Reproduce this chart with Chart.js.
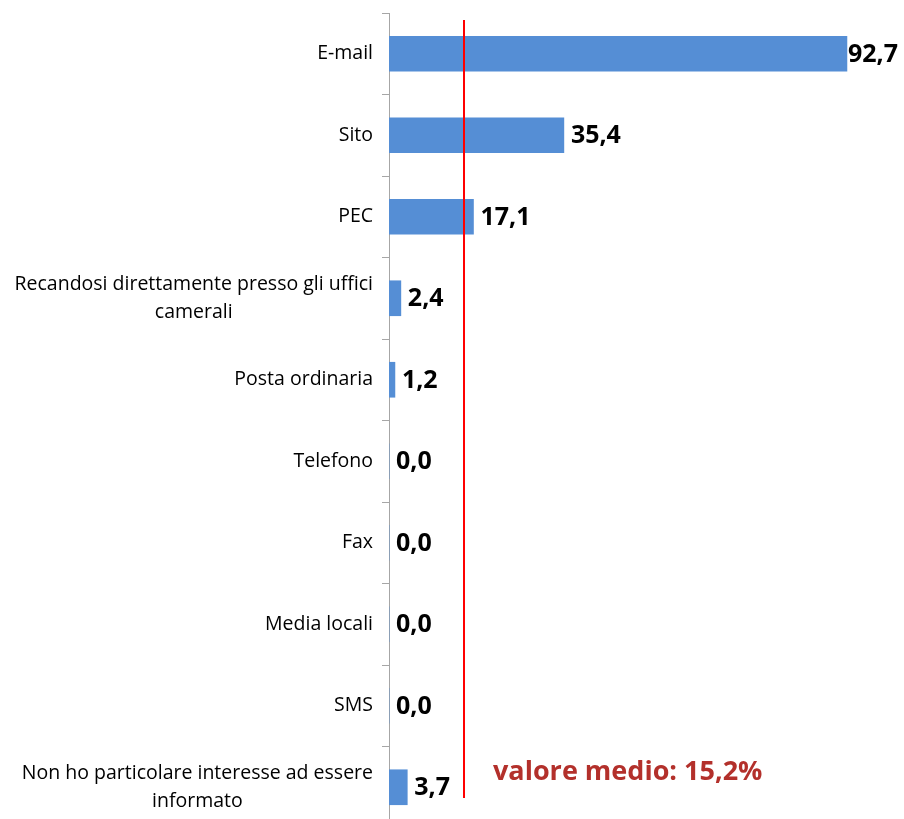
<!DOCTYPE html>
<html>
<head>
<meta charset="utf-8">
<script src="https://cdn.jsdelivr.net/npm/chart.js@4.4.1/dist/chart.umd.min.js"></script>
<style>
html,body{margin:0;padding:0;background:#fff;overflow:hidden;}
#wrap{position:relative;width:904px;height:830px;}
</style>
</head>
<body>
<div id="wrap"><canvas id="c"></canvas></div>
<script>
const categories = [
  ["E-mail"],
  ["Sito"],
  ["PEC"],
  ["Recandosi direttamente presso gli uffici", "camerali"],
  ["Posta ordinaria"],
  ["Telefono"],
  ["Fax"],
  ["Media locali"],
  ["SMS"],
  ["Non ho particolare interesse ad essere", "informato"]
];
const values = [92.7, 35.4, 17.1, 2.4, 1.2, 0.0, 0.0, 0.0, 0.0, 3.7];
const meanValue = 15.2;
const meanLabel = "valore medio: 15,2%";
const xMin = 0, xMax = 100;

const FONT = "'Open Sans', Lato, sans-serif";

const fmt = v => v.toFixed(1).replace('.', ',');

const overlay = {
  id: 'overlay',
  afterDatasetsDraw(chart) {
    const ctx = chart.ctx;
    const xs = chart.scales.x, ys = chart.scales.y;
    const ca = chart.chartArea;
    ctx.save();
    // category labels: block right-aligned, lines centered within block
    ctx.fillStyle = '#000';
    ctx.font = "19.5px " + FONT;
    ctx.textBaseline = 'middle';
    ctx.textAlign = 'center';
    const lineH = 28.5;
    const rightEdge = ca.left - 16;
    categories.forEach((lines, i) => {
      const cy = ys.getPixelForValue(i);
      const w = Math.max(...lines.map(l => ctx.measureText(l).width));
      const cx = rightEdge - w / 2;
      const y0 = cy - (lines.length - 1) * lineH / 2;
      lines.forEach((l, k) => ctx.fillText(l, cx, y0 + k * lineH));
    });
    // value labels
    ctx.font = "bold 25px " + FONT;
    ctx.textAlign = 'left';
    const meta = chart.getDatasetMeta(0);
    meta.data.forEach((bar, i) => {
      const t = fmt(values[i]);
      const tw = ctx.measureText(t).width;
      let x = bar.x + 7;
      if (x + tw > chart.width - 6) x = chart.width - 6 - tw;
      ctx.fillText(t, x, bar.y + 1);
    });
    // mean line
    const mx = Math.round(xs.getPixelForValue(meanValue));
    ctx.strokeStyle = '#FF0000';
    ctx.lineWidth = 2;
    ctx.beginPath();
    ctx.moveTo(mx, ca.top + 7);
    ctx.lineTo(mx, ca.top + 785);
    ctx.stroke();
    // mean text
    ctx.fillStyle = '#B3302B';
    ctx.font = "bold 27px " + FONT;
    ctx.textBaseline = 'alphabetic';
    ctx.fillText(meanLabel, mx + 29, 780);
    ctx.restore();
  }
};

new Chart(document.getElementById('c'), {
  type: 'bar',
  data: {
    labels: categories,
    datasets: [{
      data: values,
      backgroundColor: '#558ED5',
      borderWidth: 0,
      barThickness: 35
    }]
  },
  options: {
    indexAxis: 'y',
    responsive: true,
    maintainAspectRatio: false,
    animation: false,
    events: [],
    layout: { padding: { top: 13, bottom: 2, left: 0, right: 21 } },
    plugins: { legend: { display: false }, tooltip: { enabled: false } },
    scales: {
      x: { display: false, min: xMin, max: xMax },
      y: {
        afterFit(scale) { scale.width = 389; },
        ticks: { display: false },
        grid: {
          offset: true,
          drawOnChartArea: false,
          drawTicks: true,
          tickLength: 7,
          color: '#A6A6A6'
        },
        border: { display: true, color: '#A6A6A6', width: 1 }
      }
    }
  },
  plugins: [overlay]
});
</script>
</body>
</html>
